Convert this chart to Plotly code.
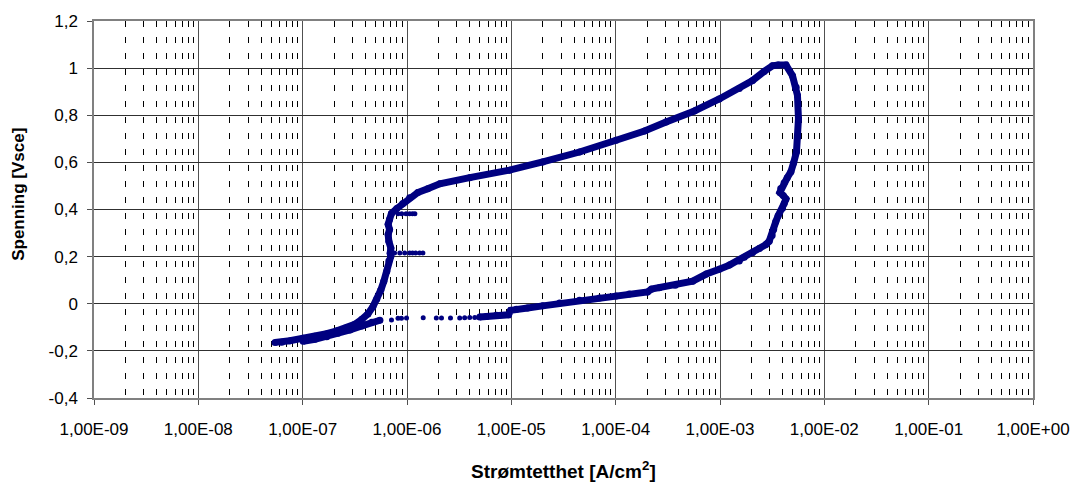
import plotly.graph_objects as go

# ---- data ----
# main scan: cathodic start -> passive -> breakdown -> reverse scan down to ~5e-6 A/cm2
main_x = [5.43e-8, 6.3e-8, 7.55e-8, 1.01e-7, 1.31e-7, 1.70e-7, 2.13e-7, 2.64e-7, 3.16e-7, 3.69e-7,
          4.22e-7, 4.71e-7, 5.14e-7, 5.61e-7, 6.0e-7, 6.41e-7, 6.70e-7, 7.0e-7, 6.9e-7, 7.0e-7,
          6.7e-7, 6.6e-7, 6.8e-7, 6.6e-7, 6.8e-7, 7.1e-7, 7.98e-7, 9.1e-7, 1.06e-6, 1.27e-6,
          1.58e-6, 2.06e-6, 3.99e-6, 9.6e-6, 2.0e-5, 4.5e-5, 1.01e-4, 1.89e-4, 3.04e-4, 5.68e-4,
          9.84e-4, 1.53e-3, 2.05e-3, 2.65e-3, 3.18e-3, 3.61e-3, 4.29e-3,
          4.95e-3, 5.37e-3, 5.53e-3, 5.65e-3, 5.55e-3, 5.41e-3, 5.08e-3, 4.78e-3, 4.41e-3, 4.12e-3,
          3.82e-3, 3.75e-3, 4.04e-3, 4.29e-3, 4.12e-3, 3.97e-3, 3.61e-3, 3.43e-3, 3.27e-3, 3.16e-3,
          2.96e-3, 2.75e-3, 2.38e-3, 2.05e-3, 1.71e-3, 1.53e-3, 1.23e-3, 9.84e-4, 7.4e-4, 5.47e-4,
          3.73e-4, 2.62e-4, 2.2e-4, 2.02e-4, 1.35e-4, 1.01e-4, 7.0e-5, 4.5e-5, 2.9e-5, 2.0e-5,
          1.43e-5, 1.12e-5, 9.85e-6, 9.4e-6, 7.2e-6, 5.8e-6, 4.98e-6]
main_y = [-0.164, -0.163, -0.157, -0.146, -0.138, -0.127, -0.115, -0.102, -0.087, -0.066,
          -0.043, -0.013, 0.020, 0.058, 0.096, 0.138, 0.181, 0.202, 0.214, 0.236,
          0.265, 0.294, 0.315, 0.337, 0.358, 0.383, 0.404, 0.425, 0.450, 0.472,
          0.488, 0.509, 0.535, 0.567, 0.602, 0.644, 0.694, 0.733, 0.771, 0.818,
          0.869, 0.914, 0.947, 0.986, 1.010, 1.013, 1.013,
          0.968, 0.919, 0.884, 0.785, 0.708, 0.645, 0.598, 0.560, 0.535, 0.514,
          0.489, 0.472, 0.459, 0.445, 0.425, 0.405, 0.374, 0.349, 0.315, 0.290,
          0.265, 0.251, 0.235, 0.216, 0.197, 0.181, 0.164, 0.146, 0.126, 0.096,
          0.079, 0.068, 0.062, 0.050, 0.041, 0.033, 0.024, 0.015, 0.003, -0.009,
          -0.018, -0.023, -0.028, -0.047, -0.049, -0.054, -0.056]

# sparse points of the reverse scan around -0.06 V
sparse_x = [4.46e-6, 3.99e-6, 3.57e-6, 3.20e-6, 2.61e-6, 2.14e-6, 1.91e-6, 1.43e-6,
            9.9e-7, 8.85e-7, 8.2e-7, 7.1e-7]
sparse_y = [-0.058, -0.058, -0.059, -0.060, -0.061, -0.061, -0.061, -0.059,
            -0.061, -0.062, -0.062, -0.069]

# end of the reverse scan (dense again)
tail_x = [5.5e-7, 4.6e-7, 3.69e-7, 2.84e-7, 2.18e-7, 1.70e-7, 1.31e-7, 1.01e-7]
tail_y = [-0.070, -0.079, -0.094, -0.111, -0.125, -0.140, -0.151, -0.159]

# small excursions in the passive range
spike1_x = [7.6e-7, 8.53e-7, 9.5e-7, 1.06e-6, 1.13e-6, 1.21e-6, 1.32e-6, 1.42e-6]
spike1_y = [0.2155, 0.2155, 0.2155, 0.2155, 0.2155, 0.2155, 0.2155, 0.2155]
spike2_x = [8.2e-7, 8.9e-7, 9.8e-7, 1.06e-6, 1.13e-6, 1.19e-6]
spike2_y = [0.382, 0.382, 0.382, 0.382, 0.382, 0.382]

x_major = [1e-9, 1e-8, 1e-7, 1e-6, 1e-5, 1e-4, 1e-3, 1e-2, 1e-1, 1e0]
x_labels = ["1,00E-09", "1,00E-08", "1,00E-07", "1,00E-06", "1,00E-05",
            "1,00E-04", "1,00E-03", "1,00E-02", "1,00E-01", "1,00E+00"]
y_ticks = [-0.4, -0.2, 0, 0.2, 0.4, 0.6, 0.8, 1.0, 1.2]
y_labels = ["-0,4", "-0,2", "0", "0,2", "0,4", "0,6", "0,8", "1", "1,2"]

x_minor = [k * 10.0 ** e for e in range(-9, 0) for k in range(2, 10)]

NAVY = "#000080"
FONT = "Arial, Liberation Sans, sans-serif"

fig = go.Figure()
fig.add_trace(go.Scatter(x=main_x, y=main_y, mode="lines+markers",
                         line=dict(color=NAVY, width=7), marker=dict(color=NAVY, size=7),
                         showlegend=False, hoverinfo="skip"))
fig.add_trace(go.Scatter(x=tail_x, y=tail_y, mode="lines+markers",
                         line=dict(color=NAVY, width=7), marker=dict(color=NAVY, size=7),
                         showlegend=False, hoverinfo="skip"))
fig.add_trace(go.Scatter(x=sparse_x, y=sparse_y, mode="markers",
                         marker=dict(color=NAVY, size=5), showlegend=False, hoverinfo="skip"))
fig.add_trace(go.Scatter(x=spike1_x, y=spike1_y, mode="markers",
                         marker=dict(color=NAVY, size=5), showlegend=False, hoverinfo="skip"))
fig.add_trace(go.Scatter(x=spike2_x, y=spike2_y, mode="markers",
                         marker=dict(color=NAVY, size=5), showlegend=False, hoverinfo="skip"))

fig.update_layout(
    width=1082, height=483,
    margin=dict(l=94, r=48, t=18, b=85),
    paper_bgcolor="white", plot_bgcolor="white",
    font=dict(family=FONT, size=16, color="black"),
    xaxis=dict(
        type="log", range=[-9, 0],
        tickmode="array", tickvals=x_major, ticktext=x_labels,
        showgrid=True, gridcolor="#505050", gridwidth=1,
        showline=True, linecolor="#808080", linewidth=1.5, mirror=True,
        ticks="outside", ticklen=5, tickcolor="#505050",
        ticklabelstandoff=10,
        tickfont=dict(size=17),
        zeroline=False,
        minor=dict(tickmode="array", tickvals=x_minor, showgrid=True,
                   gridcolor="black", gridwidth=1, griddash="6px,10px", ticks=""),
    ),
    yaxis=dict(
        range=[-0.4, 1.2],
        tickmode="array", tickvals=y_ticks, ticktext=y_labels,
        showgrid=True, gridcolor="#303030", gridwidth=1,
        showline=True, linecolor="#808080", linewidth=1.5, mirror=True,
        ticks="outside", ticklen=5, tickcolor="#505050",
        ticklabelstandoff=6,
        tickfont=dict(size=17),
        zeroline=False,
    ),
    annotations=[
        dict(text="<b>Strømtetthet [A/cm<sup>2</sup>]</b>", xref="paper", yref="paper",
             x=0.5, y=-0.19, xanchor="center", yanchor="middle", showarrow=False,
             font=dict(size=19, family=FONT)),
        dict(text="<b>Spenning [Vsce]</b>", xref="paper", yref="paper",
             x=-0.0805, y=0.54, xanchor="center", yanchor="middle", showarrow=False,
             textangle=-90, font=dict(size=17, family=FONT)),
    ],
)

fig.write_html("out.html", config={"displayModeBar": False},
               post_script="document.body.style.margin='0px';")
